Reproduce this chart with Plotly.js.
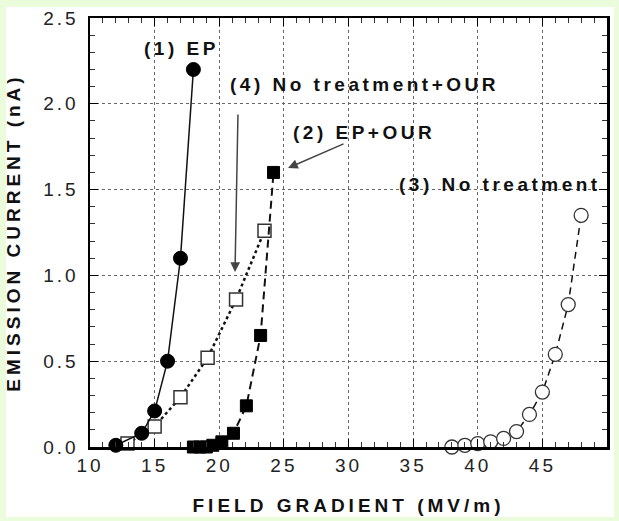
<!DOCTYPE html>
<html>
<head>
<meta charset="utf-8">
<script src="https://cdn.plot.ly/plotly-3.0.1.min.js"></script>
<style>
  html, body { margin: 0; padding: 0; background: #eafcdb; }
  #chart { width: 619px; height: 521px; }
  .xtick text, .ytick text { letter-spacing: 3px; }
  .g-xtitle text, .g-ytitle text { letter-spacing: 4px; }
  .annotation-text { letter-spacing: 3.5px; }
</style>
</head>
<body>
<div id="chart"></div>
<script>
// (1) EP
const epX = [12, 14, 15, 16, 17, 18];
const epY = [0.01, 0.08, 0.21, 0.50, 1.10, 2.20];
// (2) EP+OUR
const epOurX = [18.0, 18.5, 19.0, 19.5, 20.2, 21.1, 22.1, 23.2, 24.2];
const epOurY = [0.0, 0.0, 0.0, 0.01, 0.03, 0.08, 0.24, 0.65, 1.60];
// (3) No treatment
const ntX = [38, 39, 40, 41, 42, 43, 44, 45, 46, 47, 48];
const ntY = [0.0, 0.01, 0.02, 0.03, 0.05, 0.09, 0.19, 0.32, 0.54, 0.83, 1.35];
// (4) No treatment+OUR
const ntOurX = [12.9, 15.0, 17.0, 19.1, 21.3, 23.5];
const ntOurY = [0.02, 0.12, 0.29, 0.52, 0.86, 1.26];

const labels = ['(1) EP', '(4) No treatment+OUR', '(2) EP+OUR', '(3) No treatment'];
const xTitle = 'FIELD GRADIENT (MV/m)';
const yTitle = 'EMISSION CURRENT (nA)';

const traces = [
  {x: ntOurX, y: ntOurY, mode: 'lines+markers', cliponaxis: false,
   line: {color: '#111', width: 2.5, dash: 'dot'},
   marker: {symbol: 'square', size: 13, color: '#fff', line: {color: '#333', width: 1.5}}},
  {x: epOurX, y: epOurY, mode: 'lines+markers', cliponaxis: false,
   line: {color: '#111', width: 2, dash: '8px,5px'},
   marker: {symbol: 'square', size: 12, color: '#000', line: {color: '#000', width: 1}}},
  {x: ntX, y: ntY, mode: 'lines+markers', cliponaxis: false,
   line: {color: '#111', width: 1.5, dash: '7px,5px'},
   marker: {symbol: 'circle', size: 14, color: '#fff', line: {color: '#333', width: 1.3}}},
  {x: epX, y: epY, mode: 'lines+markers', cliponaxis: false,
   line: {color: '#111', width: 1.5},
   marker: {symbol: 'circle', size: 14, color: '#000', line: {color: '#000', width: 1}}}
];

const annFont = {family: 'Liberation Sans, Arial, sans-serif', size: 19, color: '#111', weight: 'bold'};

const layout = {
  width: 619, height: 521,
  margin: {l: 90, r: 12, t: 18, b: 74},
  paper_bgcolor: '#eafcdb',
  plot_bgcolor: '#ffffff',
  showlegend: false,
  font: {family: 'Liberation Sans, Arial, sans-serif', color: '#222'},
  xaxis: {
    range: [10, 50], dtick: 5, tick0: 10,
    showline: true, linecolor: '#000', linewidth: 2.5, mirror: 'ticks',
    ticks: 'inside', ticklen: 8, tickwidth: 1.2, tickcolor: '#000',
    minor: {dtick: 1, ticks: 'inside', ticklen: 5, tickwidth: 1, tickcolor: '#333', showgrid: false},
    showgrid: true, gridcolor: '#666', griddash: 'dot', gridwidth: 1,
    zeroline: false, automargin: false,
    tickfont: {size: 19, color: '#222'},
    title: {text: xTitle, font: {size: 19, weight: 'bold', color: '#111'}, standoff: 24}
  },
  yaxis: {
    range: [0, 2.5], dtick: 0.5, tick0: 0, tickformat: '.1f',
    showline: true, linecolor: '#000', linewidth: 2.5, mirror: 'ticks',
    ticks: 'inside', ticklen: 8, tickwidth: 1.2, tickcolor: '#000',
    ticklabelstandoff: 5,
    minor: {dtick: 0.1, ticks: 'inside', ticklen: 5, tickwidth: 1, tickcolor: '#333', showgrid: false},
    showgrid: true, gridcolor: '#666', griddash: 'dot', gridwidth: 1,
    zeroline: false, automargin: false,
    tickfont: {size: 19, color: '#222'},
    title: {text: yTitle, font: {size: 19, weight: 'bold', color: '#111'}, standoff: 18}
  },
  shapes: [
    {type: 'rect', xref: 'paper', yref: 'paper', layer: 'below',
     x0: -0.1625, x1: 1.0135, y0: -0.163, y1: 1.0256,
     fillcolor: '#ffffff', line: {width: 0}}
  ],
  annotations: [
    {x: 17.1, y: 2.325, xref: 'x', yref: 'y', text: labels[0], showarrow: false, font: annFont},
    {x: 31.2, y: 2.11, xref: 'x', yref: 'y', text: labels[1], showarrow: false, font: annFont},
    {x: 31.2, y: 1.833, xref: 'x', yref: 'y', text: labels[2], showarrow: false, font: annFont},
    {x: 41.7, y: 1.53, xref: 'x', yref: 'y', text: labels[3], showarrow: false, font: annFont},
    {x: 21.22, y: 1.02, ax: 21.45, ay: 1.946, xref: 'x', yref: 'y', axref: 'x', ayref: 'y',
     text: '', showarrow: true, arrowhead: 2, arrowsize: 1.3, arrowwidth: 1.5, arrowcolor: '#444'},
    {x: 25.32, y: 1.626, ax: 29.73, ay: 1.77, xref: 'x', yref: 'y', axref: 'x', ayref: 'y',
     text: '', showarrow: true, arrowhead: 2, arrowsize: 1.3, arrowwidth: 1.5, arrowcolor: '#444'}
  ]
};

Plotly.newPlot('chart', traces, layout, {displayModeBar: false, staticPlot: true});
</script>
</body>
</html>
